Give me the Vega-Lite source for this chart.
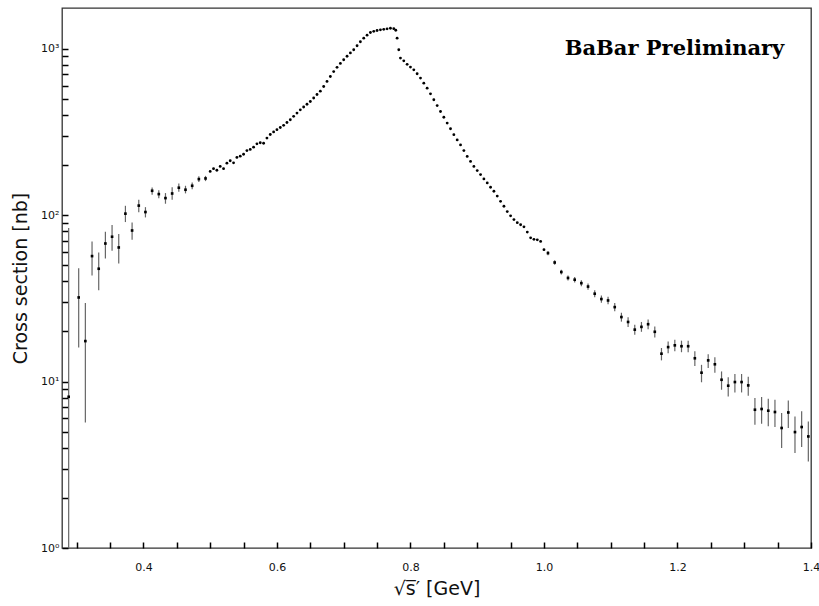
{
  "$schema": "https://vega.github.io/schema/vega-lite/v6.json",
  "width": 749,
  "height": 540,
  "autosize": {"type": "none"},
  "padding": {"left": 62, "top": 8, "right": 8, "bottom": 58},
  "background": "white",
  "config": {
    "view": {"stroke": "#333", "strokeWidth": 1.3},
    "axis": {"grid": false, "domain": false, "ticks": true, "tickColor": "black", "tickWidth": 1.5, "labelFont": "DejaVu Sans", "labelColor": "#111", "titleFont": "DejaVu Sans", "titleFontWeight": "normal", "titleColor": "#111", "labelOverlap": false, "labelFlush": false}
  },
  "datasets": {
    "sparse": [
      {"x": 0.288, "y": 8.1, "lo": 1, "hi": 83.6},
      {"x": 0.303, "y": 32, "lo": 16.0, "hi": 48},
      {"x": 0.313, "y": 17.5, "lo": 5.68, "hi": 29.6},
      {"x": 0.323, "y": 56.7, "lo": 43.4, "hi": 69.4},
      {"x": 0.333, "y": 47.6, "lo": 35.3, "hi": 59.6},
      {"x": 0.343, "y": 67.5, "lo": 54.8, "hi": 79.4},
      {"x": 0.353, "y": 74.1, "lo": 61.1, "hi": 87.1},
      {"x": 0.363, "y": 63.9, "lo": 51.2, "hi": 76.9},
      {"x": 0.373, "y": 102, "lo": 90.8, "hi": 113.7},
      {"x": 0.383, "y": 80.8, "lo": 71.1, "hi": 90.3},
      {"x": 0.393, "y": 114, "lo": 104, "hi": 123.6},
      {"x": 0.403, "y": 104.3, "lo": 96.8, "hi": 111.6},
      {"x": 0.413, "y": 140, "lo": 132.4, "hi": 146.6},
      {"x": 0.423, "y": 133.7, "lo": 126, "hi": 141},
      {"x": 0.433, "y": 126.5, "lo": 117, "hi": 135.6},
      {"x": 0.443, "y": 134.8, "lo": 123.6, "hi": 147},
      {"x": 0.453, "y": 146, "lo": 138, "hi": 155},
      {"x": 0.463, "y": 142, "lo": 135, "hi": 150},
      {"x": 0.473, "y": 150, "lo": 143, "hi": 157},
      {"x": 0.483, "y": 164.5, "lo": 158, "hi": 171},
      {"x": 0.493, "y": 166, "lo": 160, "hi": 172},
      {"x": 1.006, "y": 59.1, "lo": 57.3, "hi": 60.9},
      {"x": 1.016, "y": 51.9, "lo": 50.3, "hi": 53.5},
      {"x": 1.026, "y": 45.5, "lo": 44.0, "hi": 47.0},
      {"x": 1.036, "y": 41.9, "lo": 40.4, "hi": 43.4},
      {"x": 1.046, "y": 40.9, "lo": 39.3, "hi": 42.5},
      {"x": 1.056, "y": 39.0, "lo": 37.4, "hi": 40.6},
      {"x": 1.066, "y": 37.2, "lo": 35.6, "hi": 38.8},
      {"x": 1.076, "y": 33.7, "lo": 32.1, "hi": 35.3},
      {"x": 1.086, "y": 31.3, "lo": 29.7, "hi": 32.9},
      {"x": 1.096, "y": 30.7, "lo": 29.1, "hi": 32.3},
      {"x": 1.106, "y": 28.0, "lo": 26.4, "hi": 29.6},
      {"x": 1.116, "y": 24.4, "lo": 22.9, "hi": 25.9},
      {"x": 1.126, "y": 22.8, "lo": 21.3, "hi": 24.3},
      {"x": 1.136, "y": 20.5, "lo": 19.1, "hi": 21.9},
      {"x": 1.146, "y": 21.3, "lo": 19.9, "hi": 22.8},
      {"x": 1.156, "y": 22.1, "lo": 20.6, "hi": 23.6},
      {"x": 1.166, "y": 19.9, "lo": 18.4, "hi": 21.4},
      {"x": 1.176, "y": 14.7, "lo": 13.4, "hi": 15.9},
      {"x": 1.186, "y": 16.1, "lo": 14.8, "hi": 17.4},
      {"x": 1.196, "y": 16.5, "lo": 15.2, "hi": 17.8},
      {"x": 1.206, "y": 16.3, "lo": 15.0, "hi": 17.6},
      {"x": 1.216, "y": 16.3, "lo": 15.0, "hi": 17.6},
      {"x": 1.226, "y": 13.8, "lo": 12.4, "hi": 15.2},
      {"x": 1.236, "y": 11.3, "lo": 9.9, "hi": 12.6},
      {"x": 1.246, "y": 13.4, "lo": 12.05, "hi": 14.6},
      {"x": 1.256, "y": 12.7, "lo": 11.3, "hi": 14.0},
      {"x": 1.266, "y": 10.25, "lo": 8.93, "hi": 11.5},
      {"x": 1.276, "y": 9.44, "lo": 8.14, "hi": 10.6},
      {"x": 1.286, "y": 9.93, "lo": 8.6, "hi": 11.1},
      {"x": 1.296, "y": 9.93, "lo": 8.6, "hi": 11.1},
      {"x": 1.306, "y": 9.48, "lo": 8.22, "hi": 10.7},
      {"x": 1.316, "y": 6.77, "lo": 5.5, "hi": 7.96},
      {"x": 1.326, "y": 6.84, "lo": 5.58, "hi": 8.07},
      {"x": 1.336, "y": 6.68, "lo": 5.38, "hi": 7.88},
      {"x": 1.346, "y": 6.56, "lo": 5.33, "hi": 7.78},
      {"x": 1.356, "y": 5.26, "lo": 3.99, "hi": 6.47},
      {"x": 1.366, "y": 6.52, "lo": 5.26, "hi": 7.7},
      {"x": 1.376, "y": 4.97, "lo": 3.72, "hi": 6.17},
      {"x": 1.386, "y": 5.33, "lo": 4.04, "hi": 6.62},
      {"x": 1.396, "y": 4.68, "lo": 3.31, "hi": 5.76}
    ],
    "dense": [
      {"x": 0.500, "y": 183}, {"x": 0.505, "y": 190}, {"x": 0.510, "y": 186}, {"x": 0.515, "y": 196},
      {"x": 0.520, "y": 190}, {"x": 0.525, "y": 205}, {"x": 0.530, "y": 212}, {"x": 0.535, "y": 206},
      {"x": 0.540, "y": 222}, {"x": 0.545, "y": 226}, {"x": 0.550, "y": 232}, {"x": 0.555, "y": 244},
      {"x": 0.560, "y": 248}, {"x": 0.565, "y": 256}, {"x": 0.570, "y": 268}, {"x": 0.575, "y": 272},
      {"x": 0.580, "y": 270}, {"x": 0.585, "y": 290}, {"x": 0.590, "y": 305}, {"x": 0.595, "y": 316},
      {"x": 0.600, "y": 326}, {"x": 0.605, "y": 336}, {"x": 0.610, "y": 346}, {"x": 0.615, "y": 360},
      {"x": 0.620, "y": 374}, {"x": 0.625, "y": 392}, {"x": 0.630, "y": 410}, {"x": 0.635, "y": 429},
      {"x": 0.640, "y": 446}, {"x": 0.645, "y": 463}, {"x": 0.650, "y": 481}, {"x": 0.655, "y": 505},
      {"x": 0.660, "y": 530}, {"x": 0.665, "y": 555}, {"x": 0.670, "y": 592}, {"x": 0.675, "y": 635},
      {"x": 0.680, "y": 680}, {"x": 0.685, "y": 728}, {"x": 0.690, "y": 772}, {"x": 0.695, "y": 815},
      {"x": 0.700, "y": 857}, {"x": 0.705, "y": 900}, {"x": 0.710, "y": 942}, {"x": 0.715, "y": 984},
      {"x": 0.720, "y": 1040}, {"x": 0.725, "y": 1100}, {"x": 0.730, "y": 1156}, {"x": 0.735, "y": 1205},
      {"x": 0.740, "y": 1250}, {"x": 0.745, "y": 1270}, {"x": 0.750, "y": 1285}, {"x": 0.755, "y": 1297},
      {"x": 0.760, "y": 1306}, {"x": 0.765, "y": 1315}, {"x": 0.770, "y": 1325}, {"x": 0.775, "y": 1318},
      {"x": 0.778, "y": 1290}, {"x": 0.780, "y": 1156}, {"x": 0.7825, "y": 984}, {"x": 0.785, "y": 877},
      {"x": 0.790, "y": 845}, {"x": 0.795, "y": 805}, {"x": 0.800, "y": 775}, {"x": 0.805, "y": 746},
      {"x": 0.810, "y": 706}, {"x": 0.815, "y": 665}, {"x": 0.820, "y": 620}, {"x": 0.825, "y": 579},
      {"x": 0.830, "y": 535}, {"x": 0.835, "y": 493}, {"x": 0.840, "y": 455}, {"x": 0.845, "y": 419},
      {"x": 0.850, "y": 387}, {"x": 0.855, "y": 357}, {"x": 0.860, "y": 330}, {"x": 0.865, "y": 304},
      {"x": 0.870, "y": 283}, {"x": 0.875, "y": 264}, {"x": 0.880, "y": 244}, {"x": 0.885, "y": 225},
      {"x": 0.890, "y": 210}, {"x": 0.895, "y": 196}, {"x": 0.900, "y": 185}, {"x": 0.905, "y": 175},
      {"x": 0.910, "y": 165}, {"x": 0.915, "y": 156}, {"x": 0.920, "y": 147}, {"x": 0.925, "y": 139},
      {"x": 0.930, "y": 130}, {"x": 0.935, "y": 121}, {"x": 0.940, "y": 113}, {"x": 0.945, "y": 105},
      {"x": 0.950, "y": 99}, {"x": 0.955, "y": 94}, {"x": 0.960, "y": 90}, {"x": 0.965, "y": 87.5},
      {"x": 0.970, "y": 85}, {"x": 0.975, "y": 79}, {"x": 0.980, "y": 73}, {"x": 0.985, "y": 71.5},
      {"x": 0.990, "y": 71}, {"x": 0.995, "y": 69.5}, {"x": 1.000, "y": 62}
    ]
  },
  "encoding": {
    "x": {
      "field": "x", "type": "quantitative",
      "scale": {"domain": [0.278, 1.4], "nice": false, "zero": false},
      "axis": {
        "orient": "bottom",
        "values": [0.3, 0.35, 0.4, 0.45, 0.5, 0.55, 0.6, 0.65, 0.7, 0.75, 0.8, 0.85, 0.9, 0.95, 1.0, 1.05, 1.1, 1.15, 1.2, 1.25, 1.3, 1.35, 1.4],
        "labelExpr": "abs(datum.value*5 - round(datum.value*5)) < 0.000001 ? format(datum.value, '.1f') : ''",
        "ticks": true,
        "offset": -6,
        "tickSize": 6,
        "tickColor": "black",
        "tickWidth": 1.5,
        "labelFontSize": 11,
        "labelPadding": 13,
        "title": "√s̅′ [GeV]",
        "titleFontSize": 19,
        "titlePadding": 7
      }
    }
  },
  "layer": [
    {
      "data": {"name": "sparse"},
      "mark": {"type": "rule", "color": "#666", "strokeWidth": 1.2},
      "encoding": {
        "y": {
          "field": "lo", "type": "quantitative",
          "scale": {"type": "log", "domain": [1, 1754], "nice": false},
          "axis": {
            "orient": "left",
            "values": [1, 2, 3, 4, 5, 6, 7, 8, 9, 10, 20, 30, 40, 50, 60, 70, 80, 90, 100, 200, 300, 400, 500, 600, 700, 800, 900, 1000],
            "labelExpr": "datum.value == 1 ? '10⁰' : datum.value == 10 ? '10¹' : datum.value == 100 ? '10²' : datum.value == 1000 ? '10³' : ''",
            "ticks": true,
            "offset": -6,
            "tickSize": 6,
            "tickColor": "black",
            "tickWidth": 1.5,
            "labelFontSize": 11,
            "labelPadding": 3,
            "title": "Cross section [nb]",
            "titleFontSize": 19,
            "titlePadding": 10
          }
        },
        "y2": {"field": "hi"}
      }
    },
    {
      "data": {"name": "sparse"},
      "mark": {"type": "square", "color": "black", "size": 7, "opacity": 1},
      "encoding": {
        "y": {"field": "y", "type": "quantitative", "scale": {"type": "log", "domain": [1, 1754], "nice": false}}
      }
    },
    {
      "data": {"name": "dense"},
      "mark": {"type": "circle", "color": "black", "size": 8, "opacity": 1},
      "encoding": {
        "y": {"field": "y", "type": "quantitative", "scale": {"type": "log", "domain": [1, 1754], "nice": false}}
      }
    },
    {
      "data": {"values": [{"x": 1.36, "y": 1000, "label": "BaBar Preliminary"}]},
      "mark": {"type": "text", "align": "right", "baseline": "middle", "font": "DejaVu Serif", "fontWeight": "bold", "fontSize": 21, "color": "black"},
      "encoding": {
        "y": {"field": "y", "type": "quantitative", "scale": {"type": "log", "domain": [1, 1754], "nice": false}},
        "text": {"field": "label"}
      }
    }
  ]
}
